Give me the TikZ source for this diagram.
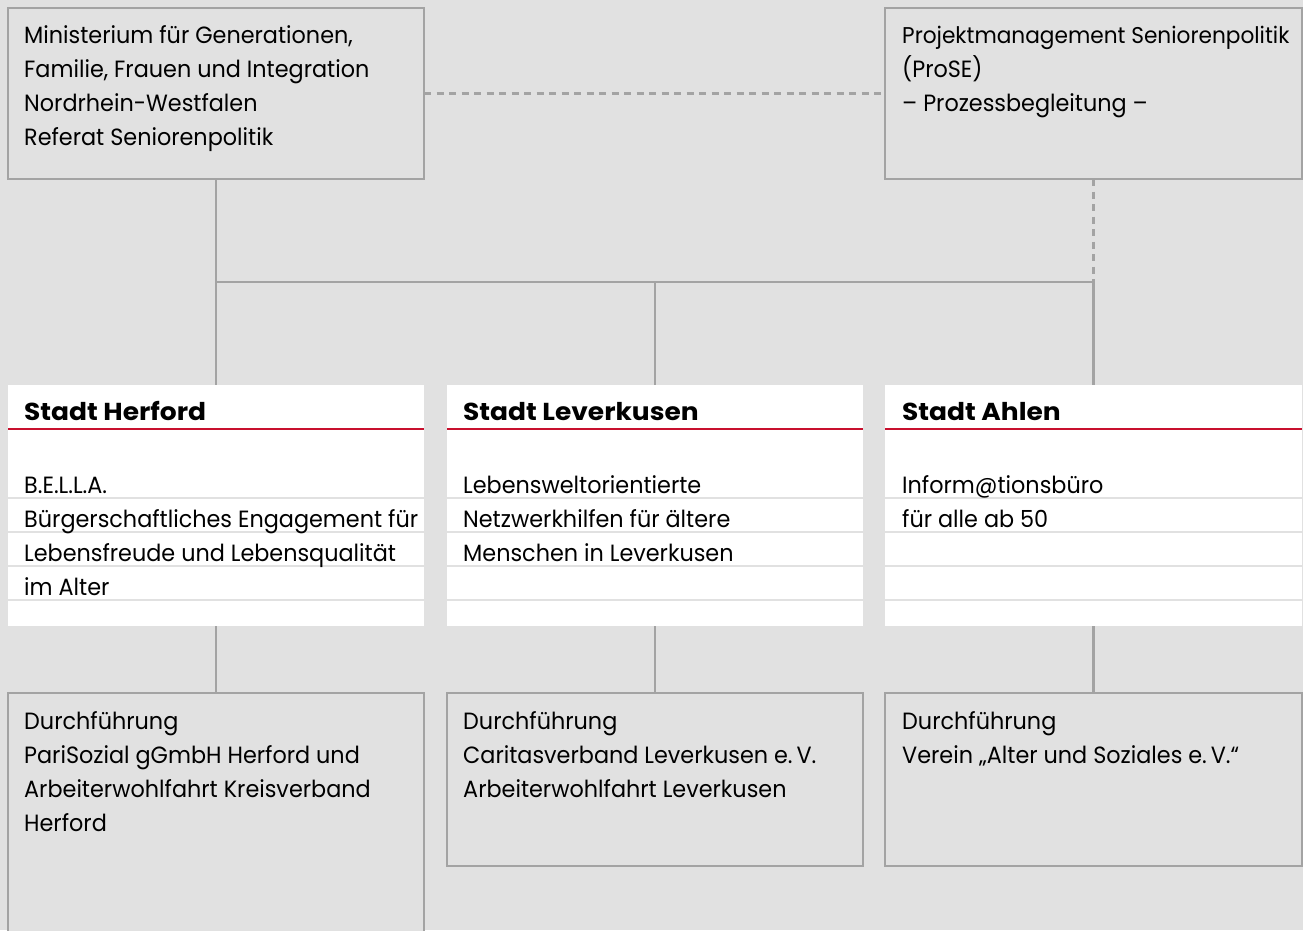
\documentclass[tikz,border=0pt]{standalone}
\usepackage{fontspec}
\setmainfont{Poppins}[FakeStretch=0.95]
\newfontfamily\headfont{Poppins}[FakeStretch=1.08]
\definecolor{bg}{HTML}{E1E1E1}
\definecolor{lgray}{HTML}{A3A3A3}
\definecolor{hred}{HTML}{C8102E}
\tikzset{
  box/.style={draw=lgray, line width=2.5pt, fill=bg, anchor=north west, inner sep=0pt, outer sep=0pt},
  tbl/.style={fill=white, anchor=north west, inner sep=0pt, outer sep=0pt, minimum width=416pt, minimum height=241pt},
  txt/.style={anchor=base west, inner sep=0pt, font=\fontsize{23.5}{34}\selectfont, text=black},
  head/.style={anchor=base west, inner sep=0pt, font=\headfont\bfseries\fontsize{24.5}{34}\selectfont, text=black},
  conn/.style={draw=lgray, line width=2.5pt},
  dconn/.style={draw=lgray, line width=2.5pt, dash pattern=on 7pt off 5.5pt},
  redline/.style={draw=hred, line width=2.5pt},
  sepline/.style={draw=bg, line width=2.5pt}
}
\begin{document}
\begin{tikzpicture}[x=1pt, y=-1pt]
\clip (0,0) rectangle (1303,930);
\fill[bg] (0,0) rectangle (1303,930);
% top boxes
\node[box, minimum width=416pt, minimum height=171pt] (tl) at (8,8) {};
\node[box, minimum width=417pt, minimum height=171pt] (tr) at (885,8) {};
\node[txt] (tl1) at (24,43) {Ministerium für Generationen,};
\node[txt] (tl2) at (24,77) {Familie, Frauen und Integration};
\node[txt] (tl3) at (24,111) {Nordrhein-Westfalen};
\node[txt] (tl4) at (24,145) {Referat Seniorenpolitik};
\node[txt, font=\fontsize{22.8}{34}\selectfont] (tr1) at (902,43) {Projektmanagement Seniorenpolitik};
\node[txt] (tr2) at (902,77) {(ProSE)};
\node[txt] (tr3) at (902,111) {– Prozessbegleitung –};
% tables
\node[tbl] (her) at (8,385) {};
\node[tbl] (lev) at (447,385) {};
\node[tbl, minimum width=417pt] (ahl) at (885,385) {};
\foreach \t in {her,lev,ahl}{
  \draw[redline] ([yshift=-44pt]\t.north west) -- ([yshift=-44pt]\t.north east);
  \foreach \o in {113,147,181,215}{
    \draw[sepline] ([yshift=-\o pt]\t.north west) -- ([yshift=-\o pt]\t.north east);
  }
}
\node[head] (herh) at (24,420) {Stadt Herford};
\node[head] (levh) at (463,420) {Stadt Leverkusen};
\node[head] (ahlh) at (902,420) {Stadt Ahlen};
\node[txt] (her1) at (24,493) {B.E.L.L.A.};
\node[txt] (her2) at (24,527) {Bürgerschaftliches Engagement für};
\node[txt] (her3) at (24,561) {Lebensfreude und Lebensqualität};
\node[txt] (her4) at (24,595) {im Alter};
\node[txt] (lev1) at (463,493) {Lebensweltorientierte};
\node[txt] (lev2) at (463,527) {Netzwerkhilfen für ältere};
\node[txt] (lev3) at (463,561) {Menschen in Leverkusen};
\node[txt] (ahl1) at (902,493) {Inform@tionsbüro};
\node[txt] (ahl2) at (902,527) {für alle ab 50};
% bottom boxes
\node[box, minimum width=416pt, minimum height=260pt] (hb) at (8,693) {};
\node[box, minimum width=416pt, minimum height=173pt] (lb) at (447,693) {};
\node[box, minimum width=417pt, minimum height=173pt] (ab) at (885,693) {};
\node[txt] (hb1) at (24,729) {Durchführung};
\node[txt] (hb2) at (24,763) {PariSozial gGmbH Herford und};
\node[txt] (hb3) at (24,797) {Arbeiterwohlfahrt Kreisverband};
\node[txt] (hb4) at (24,831) {Herford};
\node[txt] (lb1) at (463,729) {Durchführung};
\node[txt] (lb2) at (463,763) {Caritasverband Leverkusen e.\,V.};
\node[txt] (lb3) at (463,797) {Arbeiterwohlfahrt Leverkusen};
\node[txt] (ab1) at (902,729) {Durchführung};
\node[txt] (ab2) at (902,763) {Verein „Alter und Soziales e.\,V.“};
% connectors
\coordinate (hy) at (0,282);
\draw[dconn] (tl.east) -- (tr.west);
\draw[dconn] (tr.south) -- (tr.south |- hy);
\draw[conn] (tl.south) -- (tl.south |- hy) -- (her.north);
\draw[conn] (tl.south |- hy) -- (tr.south |- hy) -- (ahl.north);
\draw[conn] (lev.north |- hy) -- (lev.north);
\draw[conn] (her.south) -- (hb.north);
\draw[conn] (lev.south) -- (lb.north);
\draw[conn] (ahl.south) -- (ab.north);
\end{tikzpicture}
\end{document}
